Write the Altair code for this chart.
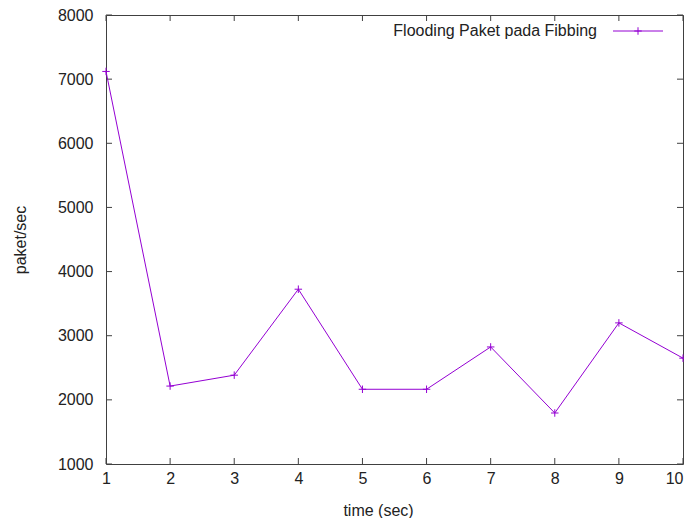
import altair as alt
import pandas as pd

# data
times = [1, 2, 3, 4, 5, 6, 7, 8, 9, 10]
paket = [7120, 2215, 2385, 3725, 2165, 2165, 2825, 1795, 3200, 2650]
x_ticks = [1, 2, 3, 4, 5, 6, 7, 8, 9, 10]
y_ticks = [1000, 2000, 3000, 4000, 5000, 6000, 7000, 8000]
series_name = "Flooding Paket pada Fibbing"

W, H = 577, 449
COLOR = "#9400D3"
FONT = "Liberation Sans"
TXT = "#222222"
PLUS = "M-1,0L1,0M0,-1L0,1"
MSIZE = 56

df = pd.DataFrame({"t": times, "v": paket})
xt = pd.DataFrame({"t": x_ticks})
yt = pd.DataFrame({"v": y_ticks})

xs = alt.Scale(domain=[1, 10], nice=False, zero=False)
ys = alt.Scale(domain=[1000, 8000], nice=False, zero=False)

xaxis = alt.Axis(values=x_ticks, grid=False, domain=False, ticks=False,
                 labelPadding=6, labelFontSize=16, labelFont=FONT,
                 labelColor=TXT, titleFont=FONT, titleFontSize=16,
                 titleFontWeight="normal", titleColor=TXT,
                 titleX=272, titleY=46, titleBaseline="middle",
                 titleAlign="center", labelFlush=False, labelOverlap=False,
                 labelAlign=alt.ExprRef(expr="datum.value >= %d ? 'right' : 'center'" % x_ticks[-1]),
                 format="d")
yaxis = alt.Axis(values=y_ticks, grid=False, domain=False, ticks=False,
                 labelPadding=13, labelFontSize=16, labelFont=FONT,
                 labelColor=TXT, titleFont=FONT, titleFontSize=16,
                 titleFontWeight="normal", titleColor=TXT,
                 titleX=-86, titleY=H / 2, titleAngle=270,
                 titleBaseline="middle", titleAlign="center",
                 labelFlush=False, labelOverlap=False, format="d")
XT = "time (sec)"
YT = "paket/sec"

base = alt.Chart(df)

line = base.mark_line(color=COLOR, strokeWidth=1).encode(
    x=alt.X("t:Q", scale=xs, title=XT, axis=xaxis),
    y=alt.Y("v:Q", scale=ys, title=YT, axis=yaxis),
)

pts = base.mark_point(shape=PLUS, size=MSIZE, filled=False, color=COLOR,
                      strokeWidth=1, opacity=1).encode(
    x=alt.X("t:Q", scale=xs, title=XT, axis=xaxis),
    y=alt.Y("v:Q", scale=ys, title=YT, axis=yaxis),
)

TL = 6
tick_style = dict(color="#404040", strokeWidth=1)
xb = alt.Chart(xt).mark_rule(**tick_style).encode(
    x=alt.X("t:Q", scale=xs, title=XT, axis=xaxis), y=alt.value(H), y2=alt.value(H - TL))
xtop = alt.Chart(xt).mark_rule(**tick_style).encode(
    x=alt.X("t:Q", scale=xs, title=XT, axis=xaxis), y=alt.value(0), y2=alt.value(TL))
yl = alt.Chart(yt).mark_rule(**tick_style).encode(
    y=alt.Y("v:Q", scale=ys, title=YT, axis=yaxis), x=alt.value(0), x2=alt.value(TL))
yr = alt.Chart(yt).mark_rule(**tick_style).encode(
    y=alt.Y("v:Q", scale=ys, title=YT, axis=yaxis), x=alt.value(W), x2=alt.value(W - TL))

leg_df = pd.DataFrame({"name": [series_name]})
leg_text = alt.Chart(leg_df).mark_text(align="right", baseline="middle",
                                       font=FONT, fontSize=16, color=TXT).encode(
    text="name:N", x=alt.value(491), y=alt.value(16))
leg_line = alt.Chart(leg_df).mark_rule(color=COLOR, strokeWidth=1).encode(
    x=alt.value(507), x2=alt.value(557), y=alt.value(16))
leg_pt = alt.Chart(leg_df).mark_point(shape=PLUS, size=MSIZE, filled=False,
                                      color=COLOR, strokeWidth=1, opacity=1).encode(
    x=alt.value(532), y=alt.value(16))

chart = alt.layer(xb, xtop, yl, yr, line, pts, leg_text, leg_line, leg_pt).properties(
    width=W, height=H,
    autosize=alt.AutoSizeParams(type="none"),
    padding={"left": 98, "top": 7, "right": 1, "bottom": 54},
    background="white",
).configure_view(stroke="#404040", strokeWidth=1)

chart.save("out.html", embed_options={"renderer": "svg", "actions": False})
